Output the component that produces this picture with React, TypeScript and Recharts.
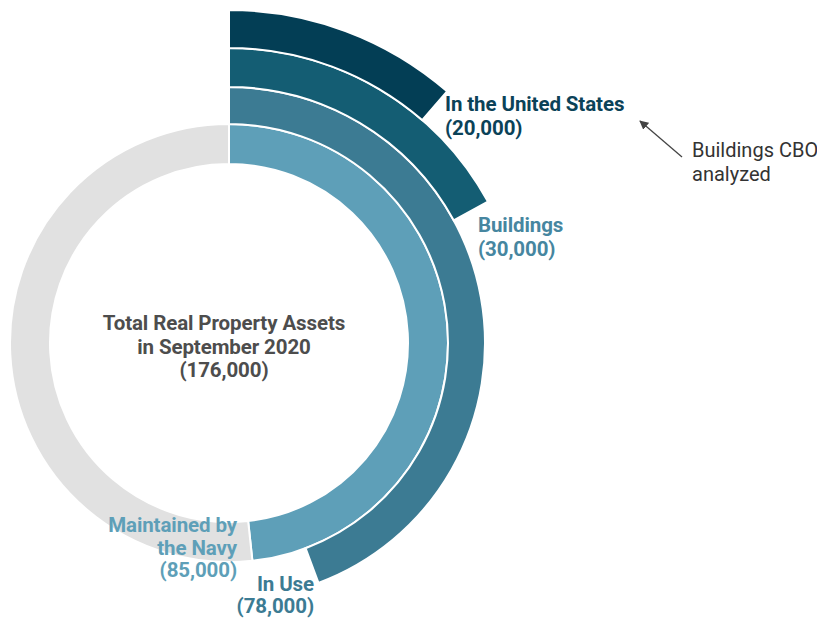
import { PieChart, Pie, Cell } from 'recharts'

const TOTAL = 176000
const TOTAL_LABEL = ['Total Real Property Assets', 'in September 2020']

// rings from the inside out
const RING_NAMES = ['Maintained by the Navy', 'In Use', 'Buildings', 'In the United States']
const RING_VALUES = [85000, 78000, 30000, 20000]

const RING_COLORS = ['#5e9fb8', '#3c7b93', '#145d73', '#033e55']
const RING_RADII = [
  [179, 219],
  [219, 256],
  [256, 295],
  [295, 333],
]
const REST_COLOR = '#e1e1e1'

const CX = 229
const CY = 343

const fmt = (v: number) => `(${v.toLocaleString('en-US')})`

const FONT = 'Roboto, "Open Sans", sans-serif'

function Annotations() {
  const bold = { fontFamily: FONT, fontWeight: 700, fontSize: 20.5, letterSpacing: -0.1 }
  return (
    <svg
      width={817}
      height={621}
      style={{ position: 'absolute', left: 0, top: 0, pointerEvents: 'none' }}
    >
      <defs>
        <marker id="arrow" viewBox="0 0 10 10" refX="9" refY="5" markerWidth="7" markerHeight="7" orient="auto">
          <path d="M0,0 L10,5 L0,10 z" fill="#444" />
        </marker>
      </defs>

      {/* center */}
      <text x={224} textAnchor="middle" fill="#4d4d4d" style={bold}>
        <tspan x={224} y={330}>{TOTAL_LABEL[0]}</tspan>
        <tspan x={224} y={354}>{TOTAL_LABEL[1]}</tspan>
        <tspan x={224} y={377}>{fmt(TOTAL)}</tspan>
      </text>

      {/* outermost ring */}
      <text fill="#0b4258" style={bold}>
        <tspan x={445} y={111}>{RING_NAMES[3]}</tspan>
        <tspan x={445} y={135}>{fmt(RING_VALUES[3])}</tspan>
      </text>

      <text fill="#4686a0" style={bold}>
        <tspan x={478} y={232}>{RING_NAMES[2]}</tspan>
        <tspan x={478} y={256}>{fmt(RING_VALUES[2])}</tspan>
      </text>

      <text textAnchor="end" fill="#5e9fb8" style={bold}>
        <tspan x={237} y={532}>Maintained by</tspan>
        <tspan x={237} y={555}>the Navy</tspan>
        <tspan x={237} y={577}>{fmt(RING_VALUES[0])}</tspan>
      </text>

      <text textAnchor="end" fill="#3c7b93" style={bold}>
        <tspan x={314} y={591}>{RING_NAMES[1]}</tspan>
        <tspan x={314} y={613}>{fmt(RING_VALUES[1])}</tspan>
      </text>

      {/* callout */}
      <line x1={682} y1={157} x2={640} y2={121} stroke="#444" strokeWidth={1.3} markerEnd="url(#arrow)" />
      <text fill="#333" style={{ fontFamily: FONT, fontSize: 20 }}>
        <tspan x={692} y={157}>Buildings CBO</tspan>
        <tspan x={692} y={181}>analyzed</tspan>
      </text>
    </svg>
  )
}

export default function App() {
  return (
    <div style={{ position: 'absolute', left: 0, top: 0, width: 817, height: 621, background: '#fff' }}>
      <PieChart width={817} height={621} margin={{ top: 0, right: 0, bottom: 0, left: 0 }}>
        {RING_VALUES.map((v, i) => {
          const data = [
            { name: RING_NAMES[i], value: v },
            { name: 'rest', value: TOTAL - v },
          ]
          return (
            <Pie
              key={RING_NAMES[i]}
              data={data}
              dataKey="value"
              cx={CX}
              cy={CY}
              innerRadius={RING_RADII[i][0]}
              outerRadius={RING_RADII[i][1]}
              startAngle={90}
              endAngle={-270}
              stroke="#fff"
              strokeWidth={2}
              isAnimationActive={false}
            >
              <Cell fill={RING_COLORS[i]} />
              <Cell fill={i === 0 ? REST_COLOR : 'none'} stroke={i === 0 ? '#fff' : 'none'} />
            </Pie>
          )
        })}
      </PieChart>
      <Annotations />
    </div>
  )
}
